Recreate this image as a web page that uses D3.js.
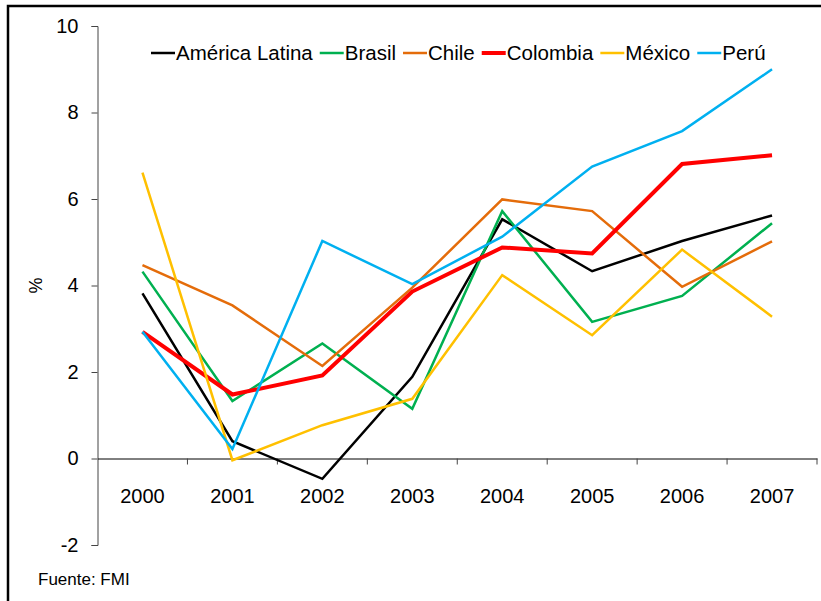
<!DOCTYPE html>
<html>
<head>
<meta charset="utf-8">
<script src="https://cdn.jsdelivr.net/npm/d3@7"></script>
<style>
  body { margin: 0; background: #fff; }
  svg { display: block; font-family: Arial, "Liberation Sans", sans-serif; }
</style>
</head>
<body>
<div id="chart"></div>
<script>
const years = ['2000', '2001', '2002', '2003', '2004', '2005', '2006', '2007']
const yTicks = [-2, 0, 2, 4, 6, 8, 10]

const americaLatina = [3.82, 0.40, -0.47, 1.89, 5.53, 4.33, 5.03, 5.62]
const brasil = [4.32, 1.33, 2.66, 1.15, 5.72, 3.16, 3.76, 5.44]
const chile = [4.47, 3.54, 2.14, 3.95, 5.99, 5.72, 3.97, 5.02]
const colombia = [2.93, 1.48, 1.92, 3.86, 4.88, 4.74, 6.81, 7.01]
const mexico = [6.61, -0.04, 0.77, 1.38, 4.24, 2.85, 4.83, 3.28]
const peru = [2.93, 0.22, 5.03, 4.03, 5.13, 6.75, 7.57, 9.0]

const series = [
  { name: 'América Latina', values: americaLatina, color: '#000000', width: 2.5 },
  { name: 'Brasil', values: brasil, color: '#00b050', width: 2.5 },
  { name: 'Chile', values: chile, color: '#e46c0a', width: 2.5 },
  { name: 'Colombia', values: colombia, color: '#ff0000', width: 4 },
  { name: 'México', values: mexico, color: '#ffc000', width: 2.5 },
  { name: 'Perú', values: peru, color: '#00b0f0', width: 2.5 }
]

const width = 821
const height = 601
const font = 'Arial, "Liberation Sans", sans-serif'

const svg = d3.select('#chart').append('svg')
  .attr('width', width)
  .attr('height', height)

// outer frame (runs off the right/bottom edge)
svg.append('rect')
  .attr('x', 8).attr('y', 6)
  .attr('width', 900).attr('height', 700)
  .attr('fill', 'none')
  .attr('stroke', '#000')
  .attr('stroke-width', 2.5)

const x = d3.scaleBand().domain(years).range([97.5, 817])
const y = d3.scaleLinear().domain([-2, 10]).range([545, 26])
const cx = d => x(d) + x.bandwidth() / 2

// y axis
const yAxis = svg.append('g')
  .attr('transform', 'translate(97.5,0)')
  .call(d3.axisLeft(y).tickValues(yTicks).tickSize(6).tickPadding(13).tickFormat(d => String(d)))
yAxis.attr('font-family', font)
yAxis.select('.domain').attr('stroke', '#444')
yAxis.selectAll('.tick line').attr('stroke', '#444')
yAxis.selectAll('text').attr('font-size', 20).attr('fill', '#000')

// x axis at zero: labels centred, ticks at category boundaries
const xAxis = svg.append('g')
  .attr('transform', `translate(0,${y(0)})`)
  .call(d3.axisBottom(x).tickSize(0).tickPadding(30).tickSizeOuter(0))
xAxis.attr('font-family', font)
xAxis.select('.domain').attr('stroke', '#000')
xAxis.selectAll('text').attr('font-size', 20).attr('fill', '#000')

svg.append('g')
  .selectAll('line')
  .data(years)
  .enter().append('line')
  .attr('x1', d => x(d) + x.step())
  .attr('x2', d => x(d) + x.step())
  .attr('y1', y(0))
  .attr('y2', y(0) + 6)
  .attr('stroke', '#444')

// y title
svg.append('text')
  .attr('transform', `translate(42,${y(4)}) rotate(-90)`)
  .attr('text-anchor', 'middle')
  .attr('font-size', 18)
  .text('%')

// lines
const line = d3.line()
  .x((d, i) => cx(years[i]))
  .y(d => y(d))

svg.append('g')
  .selectAll('path')
  .data(series)
  .enter().append('path')
  .attr('d', d => line(d.values))
  .attr('fill', 'none')
  .attr('stroke', d => d.color)
  .attr('stroke-width', d => d.width)
  .attr('stroke-linejoin', 'miter')

// legend
const legend = svg.append('g').attr('transform', 'translate(151,53)')
let lx = 0
series.forEach(s => {
  const g = legend.append('g').attr('transform', `translate(${lx},0)`)
  g.append('line')
    .attr('x1', 0).attr('x2', 24)
    .attr('stroke', s.color)
    .attr('stroke-width', s.width)
  const t = g.append('text')
    .attr('x', 25)
    .attr('y', 7)
    .attr('font-size', 20.5)
    .text(s.name)
  lx += 25 + t.node().getComputedTextLength() + 7
})

// source note
svg.append('text')
  .attr('x', 38)
  .attr('y', 585)
  .attr('font-size', 17)
  .text('Fuente:  FMI')
</script>
</body>
</html>
